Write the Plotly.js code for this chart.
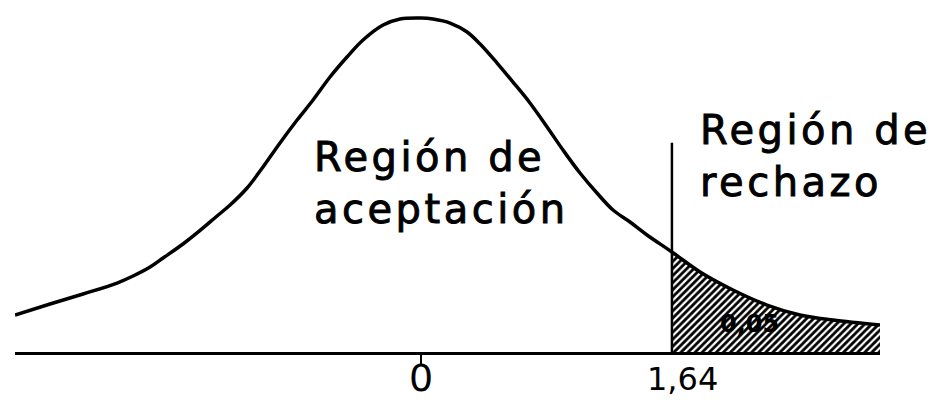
<!DOCTYPE html>
<html>
<head>
<meta charset="utf-8">
<script src="https://cdn.plot.ly/plotly-3.0.1.min.js"></script>
<style>
html,body{margin:0;padding:0;background:#fff;}
#chart{width:943px;height:405px;}
.annotation-text.big{letter-spacing:3.5px;stroke:#000;stroke-width:0.9px;}
</style>
</head>
<body>
<div id="chart"></div>
<script>
// Curve (z units, density units)
const curveX = [-2.654,-2.425,-2.209,-1.987,-1.882,-1.771,-1.686,-1.556,-1.464,-1.333,-1.248,-1.137,-1.033,-0.922,-0.810,-0.706,-0.595,-0.484,-0.379,-0.248,-0.137,0.000,0.078,0.190,0.301,0.386,0.497,0.601,0.712,0.824,0.928,1.039,1.150,1.255,1.366,1.477,1.640,1.824,2.039,2.261,2.477,2.693,3.000];
const curveY = [0.0442,0.0573,0.0693,0.0824,0.0908,0.1015,0.1123,0.1290,0.1422,0.1625,0.1756,0.1959,0.2210,0.2497,0.2771,0.3010,0.3285,0.3524,0.3727,0.3906,0.3978,0.3990,0.3978,0.3930,0.3823,0.3679,0.3452,0.3225,0.2975,0.2688,0.2413,0.2138,0.1899,0.1696,0.1553,0.1398,0.1195,0.0956,0.0741,0.0561,0.0442,0.0382,0.0323];
const critValue = 1.64;
const critLineTop = 0.25;
const alpha = "0,05";
const tickPos = [0, 1.64];
const tickLabels = ["0", "1,64"];
const regionLabels = ["Región de<br>aceptación", "Región de<br>rechazo"];

const tailX = curveX.filter(v => v >= critValue);
const tailY = curveY.filter((v, i) => curveX[i] >= critValue);

const FONT = "DejaVu Sans";

const traces = [
  {
    x: tailX, y: tailY, type: "scatter", mode: "lines",
    line: {width: 0, color: "black", shape: "spline", smoothing: 1},
    fill: "tozeroy",
    fillcolor: "white",
    fillpattern: {shape: "/", fgcolor: "black", bgcolor: "white", size: 5, solidity: 0.55},
    hoverinfo: "skip"
  },
  {
    x: curveX, y: curveY, type: "scatter", mode: "lines",
    line: {width: 3.5, color: "black", shape: "spline", smoothing: 1},
    hoverinfo: "skip"
  },
  {
    x: [critValue, critValue], y: [0, critLineTop], type: "scatter", mode: "lines",
    line: {width: 2.5, color: "black"},
    hoverinfo: "skip"
  }
];

const layout = {
  width: 943, height: 405,
  margin: {l: 15, r: 63, t: 0, b: 53},
  paper_bgcolor: "white", plot_bgcolor: "white",
  showlegend: false,
  xaxis: {
    range: [curveX[0], curveX[curveX.length - 1]],
    showgrid: false, zeroline: false,
    showline: true, linewidth: 3, linecolor: "black",
    tickvals: [tickPos[0]], showticklabels: false,
    ticks: "outside", ticklen: 9, tickwidth: 2, tickcolor: "black",
    fixedrange: true
  },
  yaxis: {
    range: [0, 0.4205],
    visible: false, showgrid: false, zeroline: false,
    fixedrange: true
  },
  annotations: [
    {x: -0.712, y: 0.2019, xref: "x", yref: "y", xanchor: "left", yanchor: "middle",
     text: regionLabels[0], showarrow: false, align: "left",
     font: {family: FONT, size: 40, color: "black"}},
    {x: 1.810, y: 0.2341, xref: "x", yref: "y", xanchor: "left", yanchor: "middle",
     text: regionLabels[1], showarrow: false, align: "left",
     font: {family: FONT, size: 40, color: "black"}},
    {x: tickPos[0], y: -0.0739, xref: "x", yref: "paper", xanchor: "center", yanchor: "middle",
     text: tickLabels[0], showarrow: false,
     font: {family: FONT, size: 38, color: "black"}},
    {x: tickPos[1], y: -0.0753, xref: "x", yref: "paper", xanchor: "center", yanchor: "middle", xshift: 11,
     text: tickLabels[1], showarrow: false,
     font: {family: FONT, size: 32, color: "black"}},
    {x: 2.15, y: 0.034, xref: "x", yref: "y", xanchor: "center", yanchor: "middle",
     text: "<b>" + alpha + "</b>", showarrow: false,
     font: {family: FONT, size: 24, color: "black"}}
  ]
};

Plotly.newPlot("chart", traces, layout, {staticPlot: true, displayModeBar: false}).then(() => {
  document.querySelectorAll(".annotation-text").forEach((el, i) => {
    if (i < 2) el.classList.add("big");
  });
});
</script>
</body>
</html>
